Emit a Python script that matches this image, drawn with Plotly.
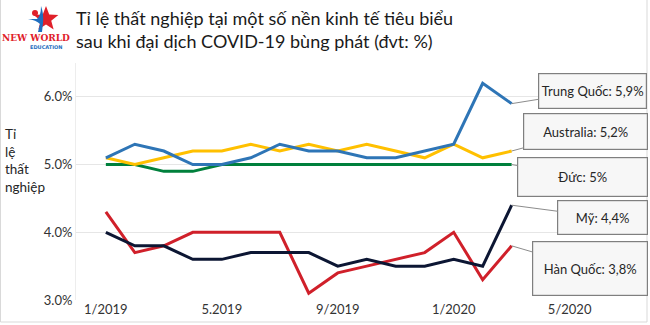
import math
import plotly.graph_objects as go

# Monthly unemployment rate (%), 1/2019 .. 3/2020
months = ["1/2019", "2/2019", "3/2019", "4/2019", "5/2019", "6/2019", "7/2019",
          "8/2019", "9/2019", "10/2019", "11/2019", "12/2019", "1/2020", "2/2020", "3/2020"]
china = [5.1, 5.3, 5.2, 5.0, 5.0, 5.1, 5.3, 5.2, 5.2, 5.1, 5.1, 5.2, 5.3, 6.2, 5.9]
australia = [5.1, 5.0, 5.1, 5.2, 5.2, 5.3, 5.2, 5.3, 5.2, 5.3, 5.2, 5.1, 5.3, 5.1, 5.2]
germany = [5.0, 5.0, 4.9, 4.9, 5.0, 5.0, 5.0, 5.0, 5.0, 5.0, 5.0, 5.0, 5.0, 5.0, 5.0]
usa = [4.0, 3.8, 3.8, 3.6, 3.6, 3.7, 3.7, 3.7, 3.5, 3.6, 3.5, 3.5, 3.6, 3.5, 4.4]
korea = [4.3, 3.7, 3.8, 4.0, 4.0, 4.0, 4.0, 3.1, 3.4, 3.5, 3.6, 3.7, 4.0, 3.3, 3.8]

tick_labels = ["1/2019", "5.2019", "9/2019", "1/2020", "5/2020"]
tick_index = [0, 4, 8, 12, 16]
y_ticks = [3.0, 4.0, 5.0, 6.0]

series = [
    ("Đức", germany, "#00803C"),
    ("Australia", australia, "#FFC000"),
    ("Trung Quốc", china, "#2E75B6"),
    ("Hàn Quốc", korea, "#D0202A"),
    ("Mỹ", usa, "#0C1633"),
]

# callout box placement: (offset x, offset y, width, height) in pixels
callouts = {
    "Trung Quốc": (81, -13, 107, 34),
    "Australia": (74, -20, 123, 35),
    "Đức": (71, 12, 129, 38),
    "Mỹ": (91, 12, 89, 33),
    "Hàn Quốc": (78, 23, 114, 53),
}

W, H = 650, 325
L, R, T, B = 76, 645, 63, 300


def pxx(x):
    return (x - L) / (R - L)


def pxy(y):
    return (B - y) / (B - T)


def fmt(v):
    s = f"{v:.1f}".replace(".", ",")
    return s[:-2] if s.endswith(",0") else s


xs = list(range(len(months)))
fig = go.Figure()
for name, vals, color in series:
    fig.add_trace(go.Scatter(x=xs, y=vals, mode="lines", name=name,
                             line=dict(color=color, width=3), showlegend=False,
                             hoverinfo="skip"))

font_main = "Lato, 'Open Sans', sans-serif"
annotations = []
for name, vals, color in series:
    ax, ay, bw, bh = callouts[name]
    annotations.append(dict(
        x=xs[-1], y=vals[-1], xref="x", yref="y",
        text=f"{name}: {fmt(vals[-1])}%",
        showarrow=True, arrowhead=0, arrowwidth=1, arrowcolor="#8C8C8C",
        ax=ax, ay=ay, width=bw, height=bh,
        bgcolor="#F7F7F7", bordercolor="#7F7F7F", borderwidth=1.2, borderpad=0,
        font=dict(family=font_main, size=13, color="#262626"), align="center",
    ))

# title
annotations.append(dict(
    x=pxx(74), y=pxy(5), xref="paper", yref="paper", xanchor="left", yanchor="top",
    text="Tỉ lệ thất nghiệp tại một số nền kinh tế tiêu biểu<br>sau khi đại dịch COVID-19 bùng phát (đvt: %)",
    showarrow=False, align="left",
    font=dict(family=font_main, size=18, color="#1A1A1A"),
))
# vertical axis caption
annotations.append(dict(
    x=pxx(3), y=pxy(160), xref="paper", yref="paper", xanchor="left", yanchor="middle",
    text="Tỉ<br>lệ<br>thất<br>nghiệp", showarrow=False, align="left",
    font=dict(family=font_main, size=13.5, color="#262626"),
))
# logo wordmark
annotations.append(dict(
    x=pxx(36), y=pxy(37), xref="paper", yref="paper", xanchor="center", yanchor="middle",
    text="<b>NEW WORLD</b>", showarrow=False,
    font=dict(family="'DejaVu Serif Condensed', 'Liberation Serif', serif", size=10,
              color="#E0202A"),
))
annotations.append(dict(
    x=pxx(46), y=pxy(46.5), xref="paper", yref="paper", xanchor="center", yanchor="middle",
    text="<b>EDUCATION</b>", showarrow=False,
    font=dict(family="'DejaVu Sans', sans-serif", size=5, color="#1F6FC0"),
))

shapes = []
# logo star
cx, cy, ro, ri = 46, 19, 13, 5.5
pts = []
for k in range(10):
    ang = -math.pi / 2 + k * math.pi / 5
    r = ro if k % 2 == 0 else ri
    pts.append((cx + r * math.cos(ang), cy + r * math.sin(ang)))
path = "M " + " L ".join(f"{pxx(a):.5f},{pxy(b):.5f}" for a, b in pts) + " Z"
shapes.append(dict(type="path", path=path, xref="paper", yref="paper",
                   fillcolor="#E0202A", line=dict(width=0), layer="above"))
# logo figure
fig_path = (f"M {pxx(28):.5f},{pxy(19):.5f} Q {pxx(36):.5f},{pxy(20):.5f} {pxx(40):.5f},{pxy(24):.5f} "
            f"L {pxx(38):.5f},{pxy(32):.5f} L {pxx(42):.5f},{pxy(32):.5f} L {pxx(43):.5f},{pxy(23):.5f} "
            f"Q {pxx(44):.5f},{pxy(14):.5f} {pxx(41):.5f},{pxy(6):.5f} "
            f"Q {pxx(41):.5f},{pxy(16):.5f} {pxx(37):.5f},{pxy(19):.5f} Z")
shapes.append(dict(type="path", path=fig_path, xref="paper", yref="paper",
                   fillcolor="#1F6FC0", line=dict(width=0), layer="above"))
shapes.append(dict(type="circle", xref="paper", yref="paper",
                   x0=pxx(32), x1=pxx(38), y0=pxy(10), y1=pxy(16),
                   fillcolor="#E0202A", line=dict(width=0), layer="above"))
# outer frame
for x0, y0, x1, y1 in [(0.5, 0, 0.5, 322), (647, 0, 647, 322), (0.5, 322, 647, 322)]:
    shapes.append(dict(type="line", xref="paper", yref="paper",
                       x0=pxx(x0), y0=pxy(y0), x1=pxx(x1), y1=pxy(y1),
                       line=dict(color="#D9D9D9", width=1)))

fig.update_layout(
    width=W, height=H,
    margin=dict(l=L, r=W - R, t=T, b=H - B),
    paper_bgcolor="white", plot_bgcolor="white",
    annotations=annotations, shapes=shapes,
    xaxis=dict(range=[-1.03, 18.6], tickvals=tick_index, ticktext=tick_labels,
               showgrid=False, zeroline=False, showline=False, ticks="",
               tickfont=dict(family=font_main, size=13, color="#333333")),
    yaxis=dict(range=[3.0, 6.5], tickvals=y_ticks,
               ticktext=[f"{v:.1f}%" for v in y_ticks],
               showgrid=True, gridcolor="#E6E6E6", gridwidth=1, zeroline=False,
               showline=True, linecolor="#EDEDED", linewidth=1, ticks="",
               automargin=False,
               tickfont=dict(family=font_main, size=13, color="#333333")),
)

fig.write_html("out.html")
